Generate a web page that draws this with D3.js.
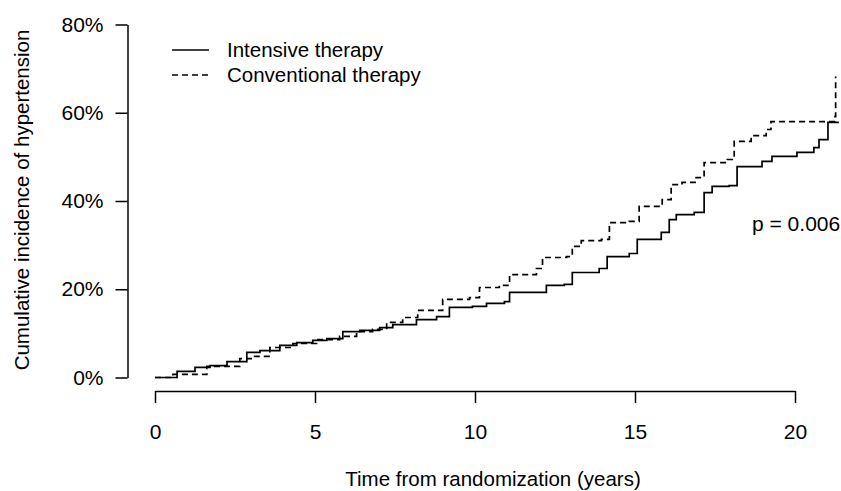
<!DOCTYPE html>
<html>
<head>
<meta charset="utf-8">
<script src="https://cdn.jsdelivr.net/npm/d3@7"></script>
<style>
  body { margin: 0; background: #fff; }
  text { font-family: "Liberation Sans", Arial, Helvetica, sans-serif; fill: #000; }
</style>
</head>
<body>
<svg id="chart"></svg>
<script>
// step points (years, cumulative %)
var intensiveTime = [0, 0.69, 1.25, 1.72, 2.25, 2.87, 3.28, 3.9, 4.43, 4.93, 5.37, 5.87, 6.4, 7.02, 7.43, 8.17, 8.8, 9.2, 9.92, 10.36, 10.92, 11.08, 12.23, 12.79, 13.04, 13.88, 14.13, 14.82, 15.07, 15.82, 16.07, 16.29, 16.85, 17.16, 17.41, 17.94, 18.19, 18.97, 19.28, 20.06, 20.59, 20.75, 21.03, 21.37];
var intensivePct = [0, 1.4, 2.3, 2.7, 3.6, 5.7, 6.1, 7.3, 7.9, 8.4, 8.8, 10.4, 10.7, 11.3, 12.0, 13.1, 13.8, 15.9, 16.1, 16.8, 17.2, 19.3, 20.9, 21.1, 23.8, 24.7, 27.4, 28.1, 31.3, 32.9, 35.8, 36.9, 37.4, 41.9, 43.3, 43.5, 47.8, 49.0, 50.1, 51.0, 52.1, 53.9, 57.8, 57.8];

var conventionalTime = [0, 0.56, 1.62, 2.65, 3.06, 3.59, 4.31, 5.05, 5.77, 6.3, 6.8, 7.24, 7.74, 8.21, 8.99, 9.83, 10.14, 10.76, 11.08, 11.92, 12.11, 12.86, 13.04, 13.32, 13.95, 14.2, 14.82, 15.13, 15.85, 16.13, 16.47, 16.91, 17.16, 17.88, 18.1, 18.63, 19.1, 19.25, 21.25, 21.27];
var conventionalPct = [0, 0.7, 2.5, 4.3, 4.8, 6.8, 7.7, 8.6, 9.3, 10.4, 10.9, 12.5, 13.6, 15.2, 17.7, 18.1, 20.4, 20.9, 23.3, 24.7, 27.2, 27.4, 29.7, 31.0, 31.3, 35.1, 35.4, 38.8, 40.3, 43.7, 44.2, 45.3, 48.7, 49.4, 53.5, 54.8, 56.2, 58.0, 59.1, 68.2];

var xTicks = [0, 5, 10, 15, 20];
var yTicks = [0, 20, 40, 60, 80];
var legendLabels = ["Intensive therapy", "Conventional therapy"];
var pValueText = "p = 0.006";

var width = 841;
var height = 491;
var fontSize = "20.5px";

var svg = d3.select("#chart")
    .attr("width", width)
    .attr("height", height);

var x = d3.scaleLinear().domain([0, 20]).range([155, 795]);
var y = d3.scaleLinear().domain([0, 80]).range([377.5, 24.5]);

// x axis, drawn below the data area like base R
svg.append("g")
    .attr("transform", "translate(0,391)")
    .call(d3.axisBottom(x).tickValues(xTicks).tickSize(12).tickPadding(21).tickSizeOuter(0));

// y axis
svg.append("g")
    .attr("transform", "translate(127.5,0)")
    .call(d3.axisLeft(y).tickValues(yTicks).tickSize(12).tickPadding(12).tickSizeOuter(0)
        .tickFormat(function (d) { return d + "%"; }));

svg.selectAll(".domain, .tick line")
    .attr("stroke", "#000")
    .attr("stroke-width", 1.5);

svg.selectAll(".tick text")
    .style("font-size", "21px")
    .style("font-family", "'Liberation Sans', Arial, sans-serif")
    .attr("fill", "#000");

// axis titles
svg.append("text")
    .attr("x", 493)
    .attr("y", 486)
    .attr("text-anchor", "middle")
    .style("font-size", fontSize)
    .text("Time from randomization (years)");

svg.append("text")
    .attr("transform", "translate(29,200) rotate(-90)")
    .attr("text-anchor", "middle")
    .style("font-size", fontSize)
    .text("Cumulative incidence of hypertension");

var line = d3.line()
    .x(function (d) { return x(d[0]); })
    .y(function (d) { return y(d[1]); })
    .curve(d3.curveStepAfter);

var intensive = d3.zip(intensiveTime, intensivePct);
var conventional = d3.zip(conventionalTime, conventionalPct);

svg.append("path")
    .datum(conventional)
    .attr("d", line)
    .attr("fill", "none")
    .attr("stroke", "#000")
    .attr("stroke-width", 1.7)
    .attr("stroke-dasharray", "6,4");

svg.append("path")
    .datum(intensive)
    .attr("d", line)
    .attr("fill", "none")
    .attr("stroke", "#000")
    .attr("stroke-width", 1.7);

// legend
var legend = svg.append("g");
legendLabels.forEach(function (label, i) {
    var ly = 50 + i * 25;
    legend.append("line")
        .attr("x1", 172).attr("x2", 209)
        .attr("y1", ly).attr("y2", ly)
        .attr("stroke", "#000")
        .attr("stroke-width", 1.5)
        .attr("stroke-dasharray", i == 0 ? null : "6,4");
    legend.append("text")
        .attr("x", 227)
        .attr("y", ly + 7)
        .style("font-size", fontSize)
        .text(label);
});

svg.append("text")
    .attr("x", 752)
    .attr("y", 231)
    .style("font-size", "21px")
    .text(pValueText);
</script>
</body>
</html>
